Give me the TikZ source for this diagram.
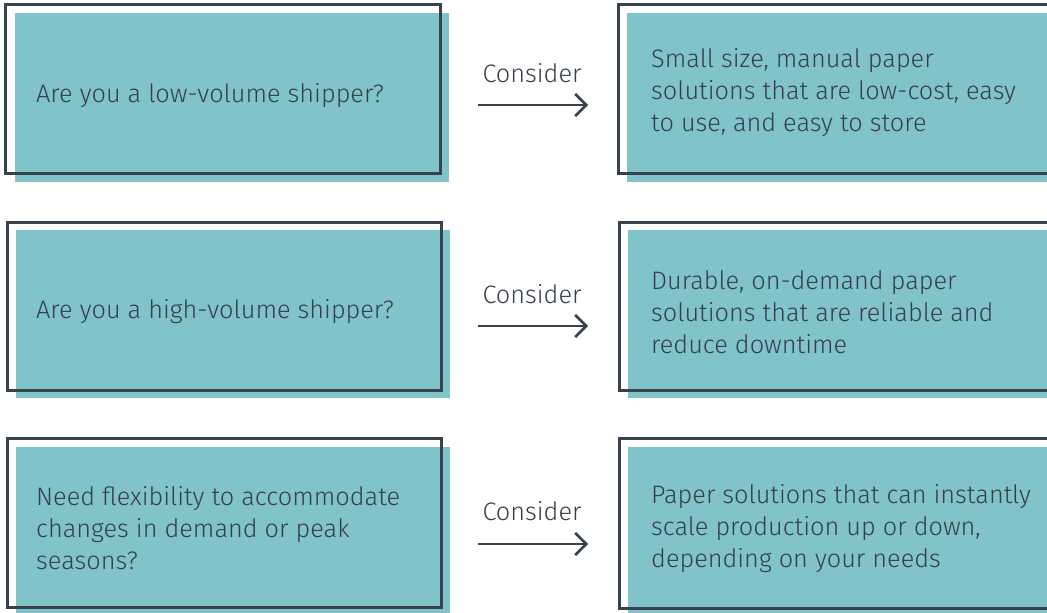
\documentclass[tikz,border=0pt]{standalone}
\usepackage{fontspec}
\setmainfont{Fira Sans Light}
\usetikzlibrary{arrows.meta}
\definecolor{teal1}{HTML}{80C3C8}
\definecolor{dark1}{HTML}{37424C}
\definecolor{txt1}{HTML}{363F48}
\tikzset{
  fillbox/.style={fill=teal1, draw=none},
  outbox/.style={draw=dark1, line width=3pt},
  lbl/.style={anchor=west, inner sep=0pt, align=left, text=txt1, font=\fontsize{25.3}{32}\selectfont},
  cons/.style={inner sep=0pt, text=txt1, font=\fontsize{25.3}{32}\selectfont},
  arr/.style={draw=dark1, line width=2.5pt, -{Straight Barb[length=11pt,width=22pt,line width=2.5pt]}}
}
\begin{document}
\begin{tikzpicture}[x=1pt,y=-1pt]
\useasboundingbox (0,0) rectangle (1047,613);
\begin{scope}
\clip (0,0) rectangle (1047,613);
% row 1
\fill[fillbox] (15,13) rectangle (449,182);
\draw[outbox] (5.5,4.7) rectangle (440,173);
\fill[fillbox] (627,13) rectangle (1060,182);
\draw[outbox] (618.5,4.7) rectangle (1065,173.7);
% row 2
\fill[fillbox] (16,230) rectangle (450,398);
\draw[outbox] (7,222) rectangle (441.5,390);
\fill[fillbox] (628,230) rectangle (1060,398);
\draw[outbox] (619,222) rectangle (1065,390);
% row 3
\fill[fillbox] (16,447) rectangle (450,620);
\draw[outbox] (7,438.7) rectangle (441.3,607.3);
\fill[fillbox] (628,447) rectangle (1060,620);
\draw[outbox] (619,438.7) rectangle (1065,608);
\end{scope}
% texts
\node[lbl] (q1) at (36,96) {Are you a low-volume shipper?};
\node[lbl] (q2) at (36,312) {Are you a high-volume shipper?};
\node[lbl] (q3) at (36,528) {Need flexibility to accommodate\\changes in demand or peak\\seasons?};
\node[lbl] (r1) at (651,93) {Small size, manual paper\\solutions that are low-cost, easy\\to use, and easy to store};
\node[lbl] (r2) at (651,312) {Durable, on-demand paper\\solutions that are reliable and\\reduce downtime};
\node[lbl] (r3) at (651,529) {Paper solutions that can instantly\\scale production up or down,\\depending on your needs};
\node[cons] (c1) at (532,73) {Consider};
\node[cons] (c2) at (532,294) {Consider};
\node[cons] (c3) at (532,511) {Consider};
\coordinate (a1s) at (478,105); \coordinate (a1e) at (588,105);
\coordinate (a2s) at (478,326); \coordinate (a2e) at (588,326);
\coordinate (a3s) at (478,544); \coordinate (a3e) at (588,544);
\draw[arr] (a1s) -- (a1e);
\draw[arr] (a2s) -- (a2e);
\draw[arr] (a3s) -- (a3e);
\end{tikzpicture}
\end{document}
